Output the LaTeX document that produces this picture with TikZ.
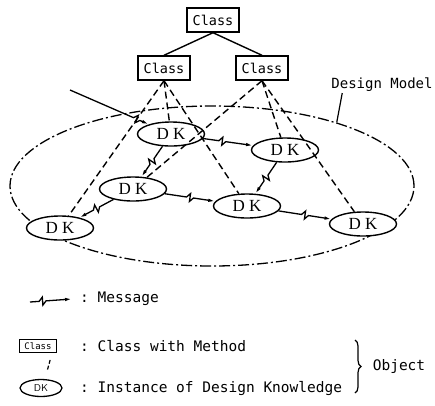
\documentclass[tikz,border=0pt]{standalone}
\usepackage{fontspec}
\setmonofont{DejaVu Sans Mono}
\newfontfamily\dkfont{Liberation Serif}
\usetikzlibrary{shapes.geometric,arrows.meta,calc,decorations.pathreplacing}
\begin{document}
\begin{tikzpicture}[x=1pt,y=-1pt,
  cls/.style={draw,line width=1.4pt,font=\ttfamily\fontsize{13.5}{13.5}\selectfont,minimum width=52pt,minimum height=24pt,inner sep=2pt},
  dk/.style={draw,ellipse,fill=white,line width=1.4pt,minimum width=67pt,minimum height=24pt,inner sep=0pt,font=\dkfont\fontsize{17}{17}\selectfont},
  inh/.style={line width=1.4pt},
  inst/.style={line width=1.4pt,dash pattern=on 7pt off 4pt},
  model/.style={draw,ellipse,line width=1.3pt,minimum width=404pt,minimum height=160pt,inner sep=0pt,dash pattern=on 11pt off 3pt on 2pt off 3pt},
  msg/.style={line width=1.3pt,-{Latex[length=7pt,width=3.5pt]},
    to path={-- ($(\tikztostart)!#1!(\tikztotarget)!-3.5pt!(\tikztotarget)$)
             -- ($(\tikztostart)!#1!(\tikztotarget)!4pt!90:(\tikztotarget)$)
             -- ($(\tikztostart)!#1!(\tikztotarget)!4pt!-90:(\tikztotarget)$)
             -- ($(\tikztostart)!#1!(\tikztotarget)!3.5pt!(\tikztotarget)$)
             -- (\tikztotarget)}},
  msg/.default=0.5,
  txt/.style={font=\ttfamily\fontsize{14}{14}\selectfont,inner sep=0pt},
  ltxt/.style={font=\ttfamily\fontsize{14.5}{14.5}\selectfont,inner sep=0pt,anchor=west},
]
\useasboundingbox (0,0) rectangle (435,405);

% design model ellipse
\node[model] (model) at (212,186) {};
\node[txt] (dm) at (382,85) {Design Model};
\draw[line width=1.2pt] ([xshift=11pt,yshift=-1pt]dm.south west) -- (model.27.5);

% classes
\node[cls] (top) at (213,20) {Class};
\node[cls] (cl) at (164,68) {Class};
\node[cls] (cr) at (262,68) {Class};
\draw[inh] (top.south) -- (cl.north);
\draw[inh] (top.south) -- (cr.north);

% instances
\node[dk] (d1) at (171,134) {D K};
\node[dk] (d2) at (285,150) {D K};
\node[dk] (d3) at (133,189) {D K};
\node[dk] (d4) at (247,206) {D K};
\node[dk] (d5) at (60,228) {D K};
\node[dk] (d6) at (363,224) {D K};

% instance-of links
\draw[inst] (cl.south) -- (d5);
\draw[inst] (cl.south) -- (d1);
\draw[inst] (cl.south) -- (d4);
\draw[inst] (cr.south) -- (d3);
\draw[inst] (cr.south) -- (d2);
\draw[inst] (cr.south) -- (d6);

% messages
\coordinate (in) at (70,90);
\draw[msg=0.66] (in) to (d1);
\draw[msg=0.45] (d1) to (d2);
\draw[msg] (d1) to (d3);
\draw[msg] (d2) to (d4);
\draw[msg] (d3) to (d4);
\draw[msg] (d3) to (d5);
\draw[msg] (d4) to (d6);

% legend
\coordinate (lm1) at (30,302);
\coordinate (lm2) at (72,299);
\draw[msg=0.3] (lm1) to (lm2);
\node[ltxt] (t1) at (80,299) {: Message};

\node[draw,line width=1.3pt,font=\ttfamily\fontsize{9}{9}\selectfont,minimum width=37pt,minimum height=13pt,inner sep=1pt] (lc) at (38,346) {Class};
\node[ltxt] (t2) at (80,346) {: Class with Method};

\node[draw,ellipse,line width=1.3pt,font=\sffamily\fontsize{10}{10}\selectfont,minimum width=42pt,minimum height=17pt,inner sep=0pt] (ld) at (41,388) {DK};
\node[ltxt] (t3) at (80,388) {: Instance of Design Knowledge};
\draw[line width=1.2pt,dash pattern=on 0pt off 7pt on 4pt off 2pt on 4pt off 30pt] ([xshift=14pt]lc.south) -- ([xshift=4pt]ld.north);

\draw[decorate,decoration={brace,amplitude=6pt},line width=1.2pt] (355,340) -- (355,393);
\node[ltxt,anchor=center] (obj) at (399,366) {Object};
\end{tikzpicture}
\end{document}
